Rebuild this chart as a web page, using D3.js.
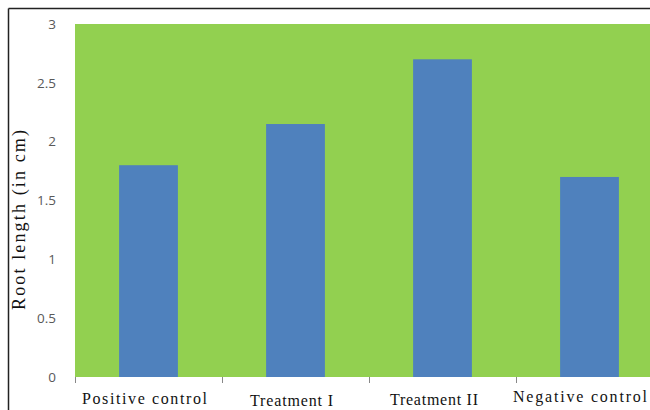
<!DOCTYPE html>
<html><head><meta charset="utf-8">
<script src="https://cdn.jsdelivr.net/npm/d3@7"></script>
<style>body{margin:0;background:#fff;} svg{display:block;}</style>
</head><body>
<svg id="c" width="650" height="410"></svg>
<script>
const categories = ["Positive control", "Treatment I", "Treatment II", "Negative control"];
const values = [1.8, 2.15, 2.7, 1.7];
const yTicks = [0, 0.5, 1, 1.5, 2, 2.5, 3];
const yTickLabels = ["0", "0.5", "1", "1.5", "2", "2.5", "3"];

(function(){
const labelLayout = [
  {dx: -4, y: 404, len: 125},
  {dx: -4, y: 406, len: 83},
  {dx: -8.5, y: 405, len: 88},
  {dx: -9.5, y: 402, len: 134}
];
const svg = d3.select("#c");
const pLeft = 75, pRight = 663, pTop = 24, pBottom = 377;

svg.append("line").attr("x1", 8.5).attr("x2", 650).attr("y1", 8.5).attr("y2", 8.5).attr("stroke", "#222").attr("stroke-width", 1.5);
svg.append("line").attr("x1", 8.5).attr("x2", 8.5).attr("y1", 8.5).attr("y2", 410).attr("stroke", "#222").attr("stroke-width", 1.5);

const x = d3.scaleBand().domain(categories).range([pLeft, pRight]).paddingInner(0.6).paddingOuter(0.3);
const xb = d3.scaleBand().domain(categories).range([pLeft, pRight]).padding(0);
const y = d3.scaleLinear().domain([0, 3]).range([pBottom, pTop]);

svg.append("rect").attr("x", pLeft).attr("y", pTop).attr("width", pRight - pLeft).attr("height", pBottom - pTop).attr("fill", "#92D050");

svg.selectAll("rect.bar").data(values).join("rect").attr("class", "bar")
  .attr("x", (d, i) => x(categories[i])).attr("width", x.bandwidth())
  .attr("y", d => y(d)).attr("height", d => pBottom - y(d)).attr("fill", "#4F81BD");

const yAxis = d3.axisLeft(y).tickValues(yTicks).tickFormat((d, i) => yTickLabels[i]).tickSize(0).tickPadding(19);
const ga = svg.append("g").attr("transform", `translate(${pLeft},0)`).call(yAxis);
ga.select(".domain").remove();
ga.selectAll("text").attr("font-family", "'Open Sans', sans-serif").attr("font-size", 13.5).attr("fill", "#595959");

const bounds = categories.map(c => xb(c));
svg.selectAll("line.xt").data(bounds).join("line").attr("class", "xt")
  .attr("x1", d => d + 0.5).attr("x2", d => d + 0.5).attr("y1", pBottom).attr("y2", pBottom + 6)
  .attr("stroke", "#888").attr("stroke-width", 1);

svg.selectAll("text.xl").data(categories).join("text").attr("class", "xl")
  .attr("x", (d, i) => xb(d) + xb.bandwidth() / 2 + labelLayout[i].dx).attr("y", (d, i) => labelLayout[i].y)
  .attr("text-anchor", "middle").attr("font-family", "'Liberation Serif', 'Times New Roman', serif")
  .attr("font-size", 16).attr("textLength", (d, i) => labelLayout[i].len).attr("lengthAdjust", "spacing")
  .attr("fill", "#111").text(d => d);

svg.append("text").attr("transform", `translate(25,220) rotate(-90)`).attr("text-anchor", "middle")
  .attr("font-family", "'Liberation Serif', 'Times New Roman', serif").attr("font-size", 18)
  .attr("textLength", 180).attr("lengthAdjust", "spacing")
  .attr("fill", "#111").text("Root length (in cm)");
})();
</script>
</body></html>
